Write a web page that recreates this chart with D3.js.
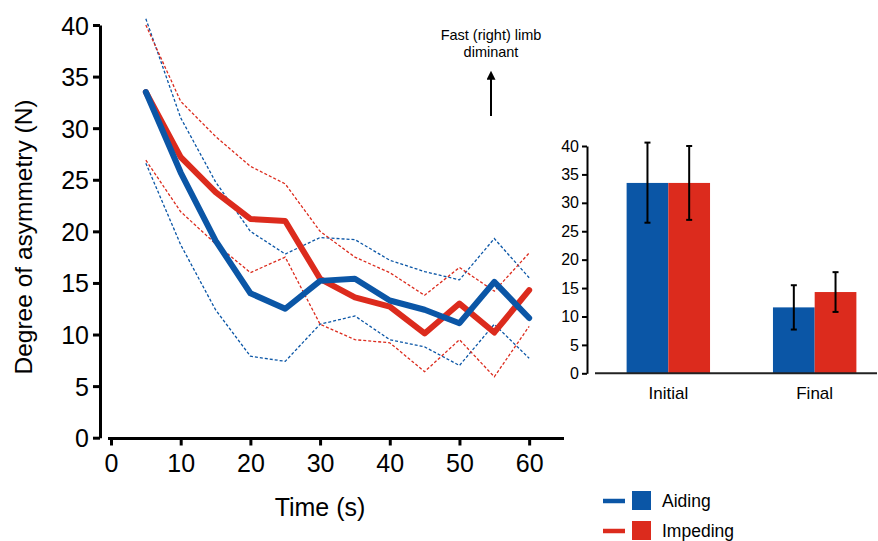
<!DOCTYPE html>
<html>
<head>
<meta charset="utf-8">
<script src="https://cdn.jsdelivr.net/npm/d3@7"></script>
<style>
  body { margin: 0; background: #fff; }
  svg { font-family: "Liberation Sans", Arial, sans-serif; }
</style>
</head>
<body>
<script>
const times = [5, 10, 15, 20, 25, 30, 35, 40, 45, 50, 55, 60]
const aidingMean  = [33.5, 25.7, 19.1, 14.0, 12.5, 15.2, 15.4, 13.3, 12.4, 11.1, 15.1, 11.6]
const aidingUpper = [40.6, 31.0, 24.8, 20.0, 17.8, 19.4, 19.2, 17.2, 16.1, 15.3, 19.3, 15.5]
const aidingLower = [26.6, 18.7, 12.4, 7.9, 7.4, 11.0, 11.8, 9.5, 8.8, 7.0, 11.0, 7.7]
const impedingMean  = [33.5, 27.2, 23.8, 21.2, 21.0, 15.4, 13.6, 12.7, 10.1, 13.0, 10.2, 14.3]
const impedingUpper = [40.0, 32.6, 29.2, 26.3, 24.6, 20.0, 17.5, 16.0, 13.8, 16.5, 14.2, 17.9]
const impedingLower = [26.9, 21.9, 18.8, 16.0, 17.5, 11.0, 9.5, 9.2, 6.4, 9.5, 5.9, 10.8]

const phases = ['Initial', 'Final']
const aidingBar = [33.5, 11.6]
const aidingErr = [[26.5, 40.6], [7.7, 15.5]]
const impedingBar = [33.5, 14.3]
const impedingErr = [[27.0, 40.0], [10.8, 17.8]]

const xTicks = [0, 10, 20, 30, 40, 50, 60]
const yTicks = [0, 5, 10, 15, 20, 25, 30, 35, 40]

const BLUE = '#0b56a6'
const RED = '#dc2b1d'

const width = 878, height = 541
const svg = d3.select('body').append('svg')
  .attr('width', width)
  .attr('height', height)

// main chart
const x = d3.scaleLinear().domain([0, 65]).range([111, 564])
const y = d3.scaleLinear().domain([0, 40]).range([437.7, 25])

const yAxis = svg.append('g')
  .attr('transform', 'translate(100,0)')
  .call(d3.axisLeft(y).tickValues(yTicks).tickSize(7).tickSizeOuter(0).tickPadding(4))
  .attr('font-family', null)
yAxis.select('.domain').attr('stroke-width', 3)
yAxis.selectAll('.tick line').attr('stroke-width', 3)
yAxis.selectAll('text').attr('font-size', 25).attr('fill', '#000').attr('dy', '0.36em')

const xAxis = svg.append('g')
  .attr('transform', 'translate(0,438.5)')
  .call(d3.axisBottom(x).tickValues(xTicks).tickSize(7).tickSizeOuter(0).tickPadding(9))
  .attr('font-family', null)
xAxis.select('.domain').attr('stroke-width', 3).attr('d', 'M108,0H564')
xAxis.selectAll('.tick line').attr('stroke-width', 3)
xAxis.selectAll('text').attr('font-size', 25).attr('fill', '#000')

svg.append('text')
  .attr('x', 320).attr('y', 516)
  .attr('text-anchor', 'middle')
  .attr('font-size', 25)
  .text('Time (s)')

svg.append('text')
  .attr('transform', 'translate(32,237) rotate(-90)')
  .attr('text-anchor', 'middle')
  .attr('font-size', 24.5)
  .text('Degree of asymmetry (N)')

const line = d3.line().x((d, i) => x(times[i])).y(d => y(d))

const dashed = [[aidingUpper, BLUE], [aidingLower, BLUE], [impedingUpper, RED], [impedingLower, RED]]
for (const [vals, col] of dashed) {
  svg.append('path')
    .datum(vals)
    .attr('d', line)
    .attr('fill', 'none')
    .attr('stroke', col)
    .attr('stroke-width', 1.3)
    .attr('stroke-dasharray', '3,2')
}

svg.append('path').datum(impedingMean).attr('d', line)
  .attr('fill', 'none').attr('stroke', RED).attr('stroke-width', 6)
  .attr('stroke-linejoin', 'round').attr('stroke-linecap', 'round')
svg.append('path').datum(aidingMean).attr('d', line)
  .attr('fill', 'none').attr('stroke', BLUE).attr('stroke-width', 6)
  .attr('stroke-linejoin', 'round').attr('stroke-linecap', 'round')

// annotation
svg.append('defs').append('marker')
  .attr('id', 'arrow')
  .attr('viewBox', '0 0 10 10')
  .attr('refX', 2).attr('refY', 5)
  .attr('markerWidth', 6).attr('markerHeight', 4.5)
  .attr('markerUnits', 'strokeWidth')
  .attr('orient', 'auto')
  .append('path').attr('d', 'M0,0L10,5L0,10z').attr('fill', '#000')

svg.append('line')
  .attr('x1', 491).attr('x2', 491)
  .attr('y1', 116).attr('y2', 78)
  .attr('stroke', '#000').attr('stroke-width', 2)
  .attr('marker-end', 'url(#arrow)')

const note = svg.append('text').attr('text-anchor', 'middle').attr('font-size', 14.5)
note.append('tspan').attr('x', 491).attr('y', 40).text('Fast (right) limb')
note.append('tspan').attr('x', 491).attr('y', 57).text('diminant')

// inset bar chart
const bx = d3.scaleBand().domain(phases).range([595, 888]).paddingInner(0.43).paddingOuter(0.216)
const sub = d3.scaleBand().domain(['Aiding', 'Impeding']).range([0, bx.bandwidth()])
const by = d3.scaleLinear().domain([0, 40]).range([373.3, 146])

const byAxis = svg.append('g')
  .attr('transform', 'translate(587,0)')
  .call(d3.axisLeft(by).tickValues(yTicks).tickSize(5).tickSizeOuter(0).tickPadding(3))
  .attr('font-family', null)
byAxis.select('.domain').attr('stroke-width', 2)
byAxis.selectAll('.tick line').attr('stroke-width', 2)
byAxis.selectAll('text').attr('font-size', 16).attr('fill', '#000')

const series = [
  { name: 'Aiding', vals: aidingBar, err: aidingErr, color: BLUE },
  { name: 'Impeding', vals: impedingBar, err: impedingErr, color: RED }
]

for (const s of series) {
  const g = svg.append('g')
  g.selectAll('rect').data(phases).enter().append('rect')
    .attr('x', d => bx(d) + sub(s.name))
    .attr('y', (d, i) => by(s.vals[i]))
    .attr('width', sub.bandwidth())
    .attr('height', (d, i) => by(0) - by(s.vals[i]))
    .attr('fill', s.color)
}

svg.append('line')
  .attr('x1', 595).attr('x2', 877)
  .attr('y1', by(0)).attr('y2', by(0))
  .attr('stroke', '#222').attr('stroke-width', 2)

for (const s of series) {
  const g = svg.append('g').attr('stroke', '#000').attr('stroke-width', 2)
  phases.forEach((p, i) => {
    const cx = bx(p) + sub(s.name) + sub.bandwidth() / 2
    const [lo, hi] = s.err[i]
    g.append('line').attr('x1', cx).attr('x2', cx).attr('y1', by(lo)).attr('y2', by(hi))
    g.append('line').attr('x1', cx - 3).attr('x2', cx + 3).attr('y1', by(lo)).attr('y2', by(lo))
    g.append('line').attr('x1', cx - 3).attr('x2', cx + 3).attr('y1', by(hi)).attr('y2', by(hi))
  })
}

svg.append('g').selectAll('text').data(phases).enter().append('text')
  .attr('x', d => bx(d) + bx.bandwidth() / 2)
  .attr('y', 399)
  .attr('text-anchor', 'middle')
  .attr('font-size', 17)
  .text(d => d)

// legend
const legend = svg.append('g')
series.forEach((s, i) => {
  const ly = 501 + i * 30
  legend.append('line')
    .attr('x1', 603).attr('x2', 625).attr('y1', ly).attr('y2', ly)
    .attr('stroke', s.color).attr('stroke-width', 4.5)
  legend.append('rect')
    .attr('x', 632).attr('y', ly - 10).attr('width', 19).attr('height', 19)
    .attr('fill', s.color)
  legend.append('text')
    .attr('x', 662).attr('y', ly + 6)
    .attr('font-size', 17.5)
    .text(s.name)
})
</script>
</body>
</html>
